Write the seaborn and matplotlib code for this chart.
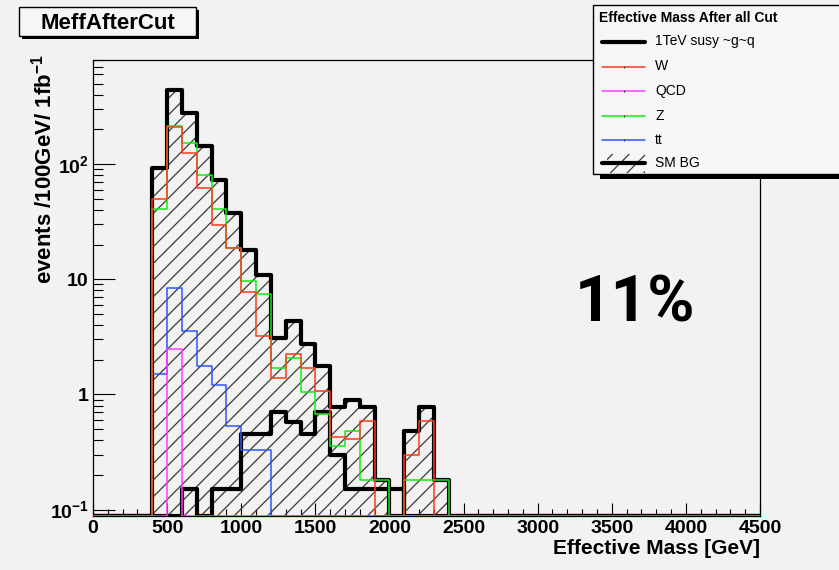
import numpy as np
import matplotlib
matplotlib.use("Agg")
import matplotlib.pyplot as plt
from matplotlib.patches import Rectangle
from matplotlib.lines import Line2D
from matplotlib.ticker import MultipleLocator, LogLocator, NullFormatter
import seaborn as sns

# Effective mass histograms: 100 GeV bins; filled bins start at 400 GeV
bin_width = 100
mass_range = (0, 4500)
first_bin = 400

# events / 100 GeV / 1 fb^-1, bins 400-500, 500-600, ..., 2300-2400
signal = [0, 0, 0.15, 0, 0.15, 0.15, 0.45, 0.45, 0.71, 0.58,
          0.45, 0.70, 0.30, 0.15, 0.15, 0.15, 0.15, 0, 0, 0]
w_jets = [50, 210, 125, 62, 29.5, 18.6, 7.7, 3.2, 1.4, 2.23,
          1.68, 1.08, 0.43, 0.41, 0.59, 0, 0, 0.30, 0.59, 0]
qcd = [0, 2.5, 0, 0, 0, 0, 0, 0, 0, 0,
       0, 0, 0, 0, 0, 0, 0, 0, 0, 0]
z_jets = [41, 215, 152, 80, 41, 18.6, 9.6, 7.4, 1.68, 2.06,
          1.04, 0.68, 0.36, 0.48, 0.18, 0.18, 0, 0.18, 0.18, 0.18]
ttbar = [1.49, 8.4, 3.53, 1.75, 1.2, 0.53, 0.33, 0.33, 0, 0,
         0, 0, 0, 0, 0, 0, 0, 0, 0, 0]
sm_bg = [93, 440, 280, 143, 72, 37.5, 17.9, 10.8, 3.07, 4.3,
         2.75, 1.75, 0.78, 0.89, 0.77, 0.18, 0, 0.48, 0.77, 0.18]

y_range = (0.088, 800)
y_ticks = [0.1, 1, 10, 100]
y_tick_labels = [r"$10^{-1}$", "1", "10", r"$10^{2}$"]
x_ticks = [0, 500, 1000, 1500, 2000, 2500, 3000, 3500, 4000, 4500]

legend_title = "Effective Mass After all Cut"
series = [  # label, values, colour, width
    ("1TeV susy ~g~q", signal, "black", 3.0),
    ("W", w_jets, "#ff3a1a", 1.1),
    ("QCD", qcd, "#ff3cff", 1.1),
    ("Z", z_jets, "#10ee10", 1.1),
    ("tt", ttbar, "#2e55ff", 1.1),
]

sns.set_style("ticks")
BG = "#f2f2f2"
plt.rcParams.update({
    "font.family": ["Liberation Sans", "DejaVu Sans"],
    "mathtext.fontset": "custom",
    "mathtext.rm": "Liberation Sans:bold",
    "mathtext.it": "Liberation Sans:bold",
    "mathtext.bf": "Liberation Sans:bold",
    "hatch.linewidth": 0.9,
    "text.color": "black",
    "axes.labelcolor": "black",
    "axes.edgecolor": "black",
    "xtick.color": "black",
    "ytick.color": "black",
    "xtick.labelcolor": "black",
    "ytick.labelcolor": "black",
})

W, H = 839, 570
fig = plt.figure(figsize=(W / 100, H / 100), dpi=100, facecolor=BG)
ax = fig.add_axes([93 / W, 1 - 516 / H, 667 / W, 456 / H], facecolor=BG)
ax.set_yscale("log")
ax.set_xlim(*mass_range)
ax.set_ylim(*y_range)

edges = np.arange(mass_range[0], mass_range[1] + bin_width, bin_width)
n_bins = len(edges) - 1
lead = (first_bin - mass_range[0]) // bin_width


def full_hist(vals):
    arr = np.zeros(n_bins)
    arr[lead:lead + len(vals)] = vals
    # empty bins sit on the bottom of the log frame
    return np.where(arr > 0, arr, y_range[0])


# hatched SM background
bg_full = full_hist(sm_bg)
ax.stairs(bg_full, edges, baseline=y_range[0], fill=True, facecolor="none",
          edgecolor="#3a3a3a", hatch="//", linewidth=0, zorder=1)
sns.lineplot(x=edges, y=np.append(bg_full, bg_full[-1]), drawstyle="steps-post",
             color="black", linewidth=3.0, ax=ax, zorder=2, legend=False)

order = [0, 4, 3, 2, 1]  # signal, tt, Z, QCD, W
for i in order:
    label, vals, col, lw = series[i]
    h = full_hist(vals)
    sns.lineplot(x=edges, y=np.append(h, h[-1]), drawstyle="steps-post",
                 color=col, linewidth=lw, ax=ax, zorder=3 + order.index(i),
                 legend=False)

for sp in ax.spines.values():
    sp.set_linewidth(0.9)
    sp.set_visible(True)

ax.set_xticks(x_ticks, labels=[str(t) for t in x_ticks], fontsize=14, fontweight="bold")
ax.xaxis.set_minor_locator(MultipleLocator(100))
ax.set_yticks(y_ticks, labels=y_tick_labels, fontsize=14, fontweight="bold")
ax.yaxis.set_minor_locator(LogLocator(base=10, subs=np.arange(2, 10)))
ax.yaxis.set_minor_formatter(NullFormatter())
ax.tick_params(axis="x", which="major", direction="in", length=9.5, width=0.8, pad=3, top=False)
ax.tick_params(axis="x", which="minor", direction="in", length=4.7, width=0.8, top=False)
ax.tick_params(axis="y", which="major", direction="in", length=16, width=0.8, pad=3, right=False)
ax.tick_params(axis="y", which="minor", direction="in", length=7.5, width=0.8, right=False)

ax.set_xlabel("Effective Mass [GeV]", fontsize=15, fontweight="bold", loc="right")
ax.xaxis.set_label_coords(1.0, -(549 - 516) / 456)
ax.xaxis.label.set_va("center")
ax.set_ylabel(r"events /100GeV/ 1fb$^{-1}$", fontsize=16, fontweight="bold", loc="top")
ax.yaxis.set_label_coords((57 - 93) / 667, (516 - 54) / 456)

# overlay in pixel coordinates for the title box, legend and annotation
ov = fig.add_axes([0, 0, 1, 1])
ov.set_xlim(0, W)
ov.set_ylim(H, 0)
ov.axis("off")
ov.set_zorder(10)

ov.add_patch(Rectangle((22, 10), 177, 29, facecolor="black", edgecolor="none"))
ov.add_patch(Rectangle((19, 7), 177, 29, facecolor="#f6f6f6", edgecolor="black", linewidth=1))
ov.text(107.5, 29, "MeffAfterCut", fontsize=16, fontweight="bold", ha="center", va="baseline")

ov.add_patch(Rectangle((600, 9), 260, 170, facecolor="black", edgecolor="none"))
ov.add_patch(Rectangle((593, 5), 260, 169, facecolor="#f6f6f6", edgecolor="black", linewidth=1))
ov.text(599, 18, legend_title, fontsize=10, fontweight="bold", ha="left", va="center")
entry_y = [41.5, 66.5, 90.5, 115.5, 139.5, 163]
for (label, vals, col, lw), y in zip(series, entry_y):
    ov.add_line(Line2D([602, 645], [y, y], color=col, linewidth=lw))
    if lw < 2:
        ov.add_line(Line2D([623.5], [y], color="#333333", marker="|",
                           markersize=2, markeredgewidth=0.8))
    ov.text(655, y, label, fontsize=10, ha="left", va="center")
ov.add_patch(Rectangle((607, 154), 38, 19, facecolor="none", edgecolor="#3a3a3a",
                       hatch="//", linewidth=0))
ov.add_line(Line2D([602, 645], [163, 163], color="black", linewidth=3.0))
ov.text(655, 163, "SM BG", fontsize=10, ha="left", va="center")

ov.text(635, 321, "11%", fontsize=46, fontweight="bold", family=["Roboto", "DejaVu Sans"],
        color="black", ha="center", va="baseline")

fig.savefig("out.png", dpi=100, facecolor=BG)
